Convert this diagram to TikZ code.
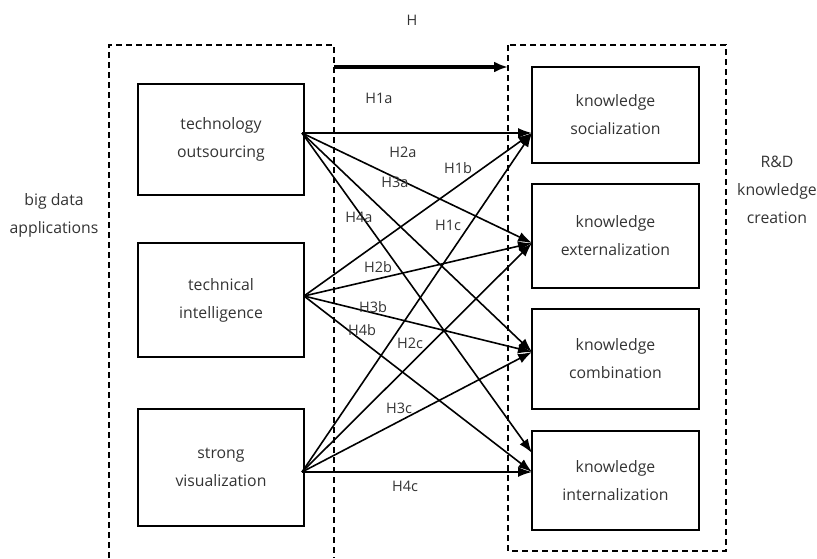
\documentclass[tikz,border=0pt]{standalone}
\usepackage{fontspec}
\setmainfont{Open Sans}
\usetikzlibrary{arrows.meta}
\begin{document}
\begin{tikzpicture}[x=1pt,y=-1pt,
  txt/.style={text=black!80, font=\fontsize{15.8}{28}\selectfont, align=center, inner sep=0pt},
  lab/.style={text=black!80, font=\fontsize{14.5}{20}\selectfont, inner sep=0pt},
  box/.style={draw, line width=1.6pt, txt, text=black!80},
  lbox/.style={box, minimum width=166pt},
  rbox/.style={box, minimum width=167pt},
  grp/.style={draw, line width=1.5pt, dash pattern=on 6pt off 4pt},
  arr/.style={line width=1.6pt, -{Latex[length=14pt,width=10pt]}}]
\useasboundingbox (0,0) rectangle (817,558);
% group frames
\draw[grp] (109,558) -- (109,45) -- (334,45) -- (334,558);
\draw[grp] (508,45) rectangle (726,551);
% boxes
\node[lbox, minimum height=111pt] (to) at (221,139.5) {technology\\outsourcing};
\node[lbox, minimum height=114pt] (ti) at (221,300) {technical\\intelligence};
\node[lbox, minimum height=117pt] (sv) at (221,467.5) {strong\\visualization};
\node[rbox, minimum height=96pt] (ks) at (615.5,115) {knowledge\\socialization};
\node[rbox, minimum height=104pt] (ke) at (615.5,236) {knowledge\\externalization};
\node[rbox, minimum height=100pt] (kc) at (615.5,359) {knowledge\\combination};
\node[rbox, minimum height=99pt] (ki) at (615.5,480.5) {knowledge\\internalization};
% side labels
\node[txt] (bd) at (54,215) {big data\\applications};
\node[txt] (rd) at (777,190) {R\&D\\knowledge\\creation};
% H arrow
\coordinate (hs) at (334,67);
\coordinate (he) at (508,67);
\draw[line width=3.2pt, -{Latex[length=14pt,width=11pt]}] (hs) -- (he);
\node[lab] (hl) at (412,20) {H};
% connector end points
\coordinate (so) at (302,133);
\coordinate (si) at (304,296);
\coordinate (sv2) at (302,472);
\coordinate (ts) at (532,133);
\coordinate (te) at (532,243);
\coordinate (tc) at (532,352);
\coordinate (ti1) at (532,453);
\coordinate (ti2) at (532,472);
% connectors
\draw[arr] (so) -- (ts);
\draw[arr] (so) -- (te);
\draw[arr] (so) -- (tc);
\draw[arr] (so) -- (ti1);
\draw[arr] (si) -- (ts);
\draw[arr] (si) -- (te);
\draw[arr] (si) -- (tc);
\draw[arr] (si) -- (ti2);
\draw[arr] (sv2) -- (ts);
\draw[arr] (sv2) -- (te);
\draw[arr] (sv2) -- (tc);
\draw[arr] (sv2) -- (ti2);
% labels
\node[lab] (l1a) at (379,98) {H1a};
\node[lab] (l2a) at (403,152) {H2a};
\node[lab] (l1b) at (458,168) {H1b};
\node[lab] (l3a) at (395,182) {H3a};
\node[lab] (l4a) at (359,217) {H4a};
\node[lab] (l1c) at (448,225) {H1c};
\node[lab] (l2b) at (378,267) {H2b};
\node[lab] (l3b) at (373,307) {H3b};
\node[lab] (l4b) at (362,330) {H4b};
\node[lab] (l2c) at (410,343) {H2c};
\node[lab] (l3c) at (399,408) {H3c};
\node[lab] (l4c) at (405,486) {H4c};
\end{tikzpicture}
\end{document}
